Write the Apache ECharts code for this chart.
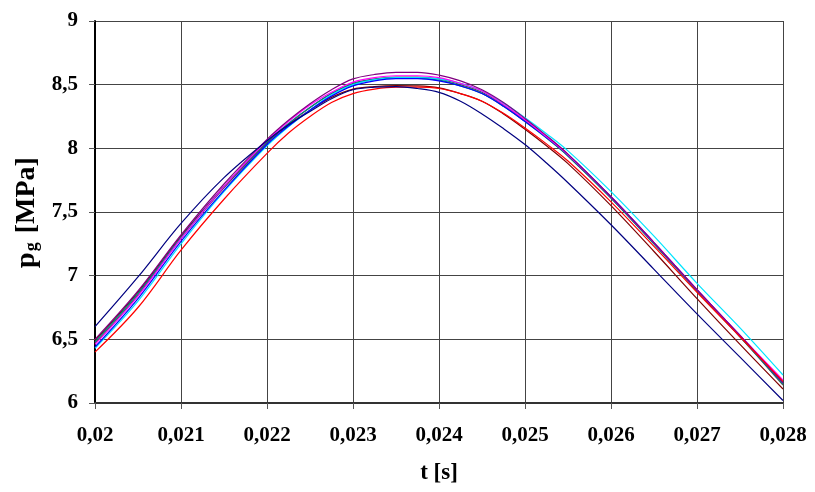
<!DOCTYPE html>
<html><head><meta charset="utf-8">
<script src="https://cdn.jsdelivr.net/npm/echarts@6/dist/echarts.min.js"></script>
<style>html,body{margin:0;padding:0;background:#fff}#c{width:815px;height:492px}</style>
</head><body><div id="c"></div>
<script>
var times = [0.02,0.0205,0.021,0.0215,0.022,0.02225,0.0225,0.02275,0.023,0.02325,0.0235,0.02375,0.024,0.02425,0.0245,0.02475,0.025,0.02525,0.0255,0.026,0.0265,0.027,0.0275,0.028];
var xTicks = ['0,02','0,021','0,022','0,023','0,024','0,025','0,026','0,027','0,028'];
var yTicks = ['6','6,5','7','7,5','8','8,5','9'];
var navy    = [6.60,6.99,7.41,7.77,8.06,8.185,8.29,8.39,8.46,8.48,8.485,8.47,8.44,8.37,8.27,8.155,8.03,7.885,7.73,7.40,7.05,6.70,6.36,6.02];
var red     = [6.40,6.75,7.20,7.60,7.96,8.12,8.25,8.36,8.43,8.465,8.48,8.48,8.47,8.43,8.37,8.275,8.16,8.035,7.90,7.58,7.23,6.87,6.52,6.17];
var purple  = [6.50,6.88,7.32,7.72,8.07,8.22,8.35,8.46,8.545,8.58,8.597,8.597,8.575,8.53,8.46,8.36,8.235,8.10,7.955,7.62,7.26,6.89,6.53,6.16];
var magenta = [6.46,6.84,7.29,7.70,8.06,8.21,8.34,8.44,8.52,8.555,8.57,8.57,8.555,8.51,8.45,8.345,8.225,8.09,7.95,7.62,7.26,6.89,6.53,6.18];
var cyan    = [6.43,6.80,7.25,7.66,8.02,8.17,8.30,8.42,8.50,8.54,8.555,8.555,8.545,8.51,8.45,8.355,8.24,8.115,7.98,7.66,7.31,6.94,6.59,6.22];
var teal    = [6.48,6.86,7.30,7.70,8.05,8.195,8.32,8.43,8.505,8.54,8.553,8.552,8.535,8.49,8.43,8.33,8.21,8.08,7.94,7.61,7.25,6.88,6.52,6.15];
var blue    = [6.44,6.82,7.27,7.67,8.03,8.175,8.30,8.41,8.49,8.53,8.548,8.548,8.53,8.49,8.43,8.33,8.21,8.085,7.95,7.62,7.26,6.89,6.53,6.16];
var gray    = [6.47,6.85,7.29,7.69,8.04,8.19,8.32,8.43,8.51,8.545,8.56,8.56,8.545,8.50,8.44,8.34,8.22,8.085,7.94,7.61,7.25,6.88,6.52,6.14];
var maroon  = [6.49,6.87,7.31,7.70,8.05,8.185,8.30,8.40,8.465,8.485,8.492,8.49,8.475,8.43,8.37,8.27,8.15,8.02,7.88,7.55,7.19,6.82,6.46,6.11];

var seriesDefs = [
  ['gray', gray, '#555555'],
  ['maroon', maroon, '#800000'],
  ['teal', teal, '#008080'],
  ['cyan', cyan, '#00e5ff'],
  ['blue', blue, '#0000ff'],
  ['magenta', magenta, '#ff00ff'],
  ['purple', purple, '#800080'],
  ['red', red, '#ff0000'],
  ['navy', navy, '#000080']
];
function pairs(vals){ return times.map(function(t,i){ return [t, vals[i]]; }); }
var font = '"Liberation Serif", "Times New Roman", serif';
var nameStyle = {fontFamily:font, fontWeight:'bold', fontSize:28, color:'#000', padding:[0,1,0,0]};
var chart = echarts.init(document.getElementById('c'), null, {renderer:'canvas'});
chart.setOption({
  animation:false,
  backgroundColor:'#fff',
  grid:{left:95, right:32, top:21, bottom:89},
  xAxis:{
    type:'value', min:0.02, max:0.028, interval:0.001,
    name:'t [s]', nameLocation:'middle', nameGap:59,
    nameTextStyle:{fontFamily:font, fontWeight:'bold', fontSize:23, color:'#000'},
    axisLine:{show:true, onZero:false, lineStyle:{color:'#333', width:2}},
    axisTick:{show:true, length:6, lineStyle:{color:'#555'}},
    splitLine:{show:true, lineStyle:{color:'#444', width:1}},
    axisLabel:{fontFamily:font, fontWeight:'bold', fontSize:21, color:'#000', margin:22,
      formatter:function(v){ var i=Math.round((v-0.02)/0.001); return xTicks[i]!==undefined?xTicks[i]:''; }}
  },
  yAxis:{
    type:'value', min:6, max:9, interval:0.5,
    name:'{a|p}{s|g}{a| [MPa]}', nameLocation:'middle', nameGap:52, nameRotate:90,
    nameTextStyle:{fontFamily:font, fontWeight:'bold', fontSize:28, color:'#000',
      rich:{a:nameStyle,
            s:{fontFamily:font, fontWeight:'bold', fontSize:18, color:'#000', verticalAlign:'bottom', padding:[0,2,0,0]}}},
    axisLine:{show:true, lineStyle:{color:'#000', width:2}},
    axisTick:{show:true, length:6, lineStyle:{color:'#555'}},
    splitLine:{show:true, lineStyle:{color:'#444', width:1}},
    axisLabel:{fontFamily:font, fontWeight:'bold', fontSize:21, color:'#000', margin:17,
      formatter:function(v){ var i=Math.round((v-6)/0.5); return yTicks[i]!==undefined?yTicks[i]:''; }}
  },
  series: seriesDefs.map(function(d){
    return {name:d[0], type:'line', smooth:0.35, showSymbol:false, symbol:'none',
      data:pairs(d[1]), lineStyle:{color:d[2], width:1.2}, itemStyle:{color:d[2]}};
  })
});
</script></body></html>
